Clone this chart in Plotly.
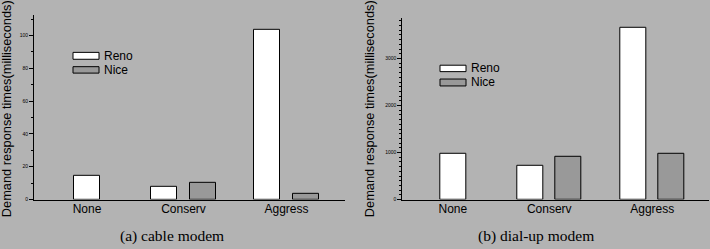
import plotly.graph_objects as go

# ---- data ----
categories = ["None", "Conserv", "Aggress"]
series_names = ["Reno", "Nice"]
cable_reno = [14.4, 7.8, 103.4]
cable_nice = [0.0, 10.2, 3.4]
dialup_reno = [981, 729, 3649]
dialup_nice = [0, 918, 981]
cable_ticks = [0, 20, 40, 60, 80, 100]
dialup_ticks = [0, 1000, 2000, 3000]
y_title = "Demand response times(milliseconds)"
captions = ["(a) cable modem", "(b) dial-up modem"]

# ---- layout constants ----
W, H = 710, 249
BG = "#b3b3b3"
NICE_COLOR = "#999999"
group_pos = [0.25, 1.0, 2.0]
offset = 0.186
bar_w = 0.252
label_pos = [group_pos[0] - offset, group_pos[1], group_pos[2]]
SANS = "Liberation Sans, Arial, sans-serif"
SERIF = "Liberation Serif, Times New Roman, serif"

fig = go.Figure()

panels = [
    dict(reno=cable_reno, nice=cable_nice, xa="x", ya="y"),
    dict(reno=dialup_reno, nice=dialup_nice, xa="x2", ya="y2"),
]
for p in panels:
    fig.add_trace(go.Bar(
        x=[g - offset for g in group_pos], y=p["reno"], width=bar_w,
        marker=dict(color="white", line=dict(color="black", width=1)),
        xaxis=p["xa"], yaxis=p["ya"], name=series_names[0], showlegend=False))
    nice_x = [g + offset for g, v in zip(group_pos, p["nice"]) if v > 0]
    nice_y = [v for v in p["nice"] if v > 0]
    fig.add_trace(go.Bar(
        x=nice_x, y=nice_y, width=bar_w,
        marker=dict(color=NICE_COLOR, line=dict(color="black", width=1)),
        xaxis=p["xa"], yaxis=p["ya"], name=series_names[1], showlegend=False))

def px_x(v):
    return v / W

def px_y(v):
    return 1 - v / H

common_x = dict(
    showgrid=False, zeroline=False, showline=True, linecolor="black", linewidth=1,
    ticks="", tickmode="array", tickvals=label_pos, ticktext=categories,
    tickfont=dict(family=SANS, size=12, color="black"), ticklabelstandoff=-2,
)
common_y = dict(
    showgrid=False, zeroline=False, showline=True, linecolor="black", linewidth=1,
    ticks="outside", ticklen=4, tickwidth=1, tickcolor="black",
    tickfont=dict(family=SANS, size=5, color="black"),
)

fig.update_layout(
    width=W, height=H, margin=dict(l=0, r=0, t=0, b=0),
    paper_bgcolor=BG, plot_bgcolor=BG, showlegend=False, bargap=0,
    xaxis=dict(common_x, domain=[px_x(34), px_x(345)], range=[-0.451, 2.568], anchor="y"),
    yaxis=dict(common_y, domain=[px_y(202), px_y(15)], range=[0, 112.6],
               tickvals=cable_ticks, anchor="x",
               minor=dict(dtick=10, ticklen=2, ticks="outside", tickcolor="black")),
    xaxis2=dict(common_x, domain=[px_x(402.3), px_x(709)], range=[-0.427, 2.551], anchor="y2"),
    yaxis2=dict(common_y, domain=[px_y(202), px_y(18)], range=[0, 3866],
                tickvals=dialup_ticks, anchor="x2",
                minor=dict(dtick=100, ticklen=2, ticks="outside", tickcolor="black")),
)

annotations = []
shapes = []
# y titles
for xc in [6.5, 369.5]:
    annotations.append(dict(
        text=y_title, textangle=-90, x=px_x(xc), y=px_y(110), xref="paper", yref="paper",
        showarrow=False, xanchor="center", yanchor="middle",
        font=dict(family=SANS, size=12.8, color="black")))
# captions
for xc, cap in zip([172, 536], captions):
    annotations.append(dict(
        text=cap, x=px_x(xc), y=px_y(239), xref="paper", yref="paper",
        showarrow=False, xanchor="center", yanchor="middle",
        font=dict(family=SERIF, size=15.5, color="black")))

# legends (swatch boxes + labels)
legends = [
    dict(x0=73, x1=99, rows=[(53, 60), (67.5, 74)], tx=102),
    dict(x0=440, x1=466, rows=[(66, 72.5), (80, 87)], tx=469),
]
for lg in legends:
    for (y0, y1), name, col in zip(lg["rows"], series_names, ["white", NICE_COLOR]):
        shapes.append(dict(type="rect", xref="paper", yref="paper",
                           x0=px_x(lg["x0"]), x1=px_x(lg["x1"]), y0=px_y(y1), y1=px_y(y0),
                           fillcolor=col, line=dict(color="black", width=1)))
        annotations.append(dict(
            text=name, x=px_x(lg["tx"]), y=px_y((y0 + y1) / 2), xref="paper", yref="paper",
            showarrow=False, xanchor="left", yanchor="middle",
            font=dict(family=SANS, size=12, color="black")))

fig.update_layout(annotations=annotations, shapes=shapes)
fig.write_html("out.html")
